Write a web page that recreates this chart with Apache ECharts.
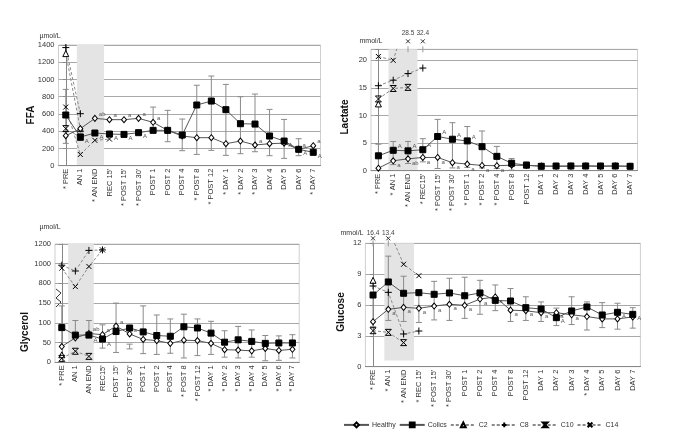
<!DOCTYPE html>
<html>
<head>
<meta charset="utf-8">
<script src="https://cdn.jsdelivr.net/npm/echarts@6/dist/echarts.min.js"></script>
<style>
html, body { margin: 0; padding: 0; background: #fff; }
#chart { width: 685px; height: 448px; }
</style>
</head>
<body>
<div id="chart"></div>
<script>
// ---- FFA (umol/L) ----
const ffaCategories = ["* PRE", "AN 1", "* AN END", "REC 15'", "* POST 15'", "* POST 30'", "POST 1", "POST 2", "POST 4", "* POST 8", "* POST 12", "* DAY 1", "* DAY 2", "* DAY 3", "DAY 4", "DAY 5", "DAY 6", "* DAY 7"]
const ffaHealthy = [348, 429, 549, 534, 534, 549, 503, 410, 344, 325, 325, 255, 286, 240, 255, 262, 190, 232]
const ffaColics = [588, 333, 379, 367, 363, 383, 410, 410, 356, 704, 750, 650, 487, 483, 344, 286, 190, 155]
const ffaUpper = [885, null, null, null, null, null, 680, 642, 541, 933, 1040, 943, 800, 831, 653, 537, 313, null]
const ffaLower = [259, null, null, null, null, null, null, 278, 174, 131, 178, 120, 139, 162, 116, 85, 116, null]
const ffaC2 = [1300, 430]
const ffaC8 = [1370, 603]
const ffaC10 = [430, 330]
const ffaC14 = [680, 130, 294, 309]
const ffaHealthyMarks = ['', '', 'ab', 'a', 'a', 'a', 'a', '', '', '', '', '', '', 'a', '', '', 'a', 'a']
const ffaColicsMarks = ['', 'A', 'A', 'A', 'A', 'A', '', '', '', '', '', '', '', '', '', 'A', 'A', 'A']

// ---- Lactate (mmol/L) ----
const lacCategories = ["* PRE", "* AN 1", "* AN END", "* REC15'", "* POST 15'", "* POST 30'", "* POST 1", "* POST 2", "* POST 4", "POST 8", "POST 12", "DAY 1", "DAY 2", "DAY 3", "DAY 4", "DAY 5", "DAY 6", "DAY 7"]
const lacHealthy = [0.45, 1.8, 2.15, 2.4, 2.4, 1.45, 1.2, 0.95, 0.9, 1.0, 0.95, 0.85, 0.8, 0.8, 0.85, 0.8, 0.85, 0.8]
const lacColics = [2.7, 3.7, 3.6, 3.8, 6.2, 5.7, 5.4, 4.35, 2.6, 1.35, 1.0, 0.8, 0.85, 0.85, 0.85, 0.85, 0.85, 0.8]
const lacUpper = [4.8, 5.3, 5.3, 5.8, 9.3, 8.7, 8.0, 7.2, 4.4, 2.2, 1.6, 1.3, 1.3, 1.35, 1.3, 1.3, 1.3, 1.25]
const lacLower = [null, 1.1, 1.3, 1.6, 0.4, 0.5, 0.6, 0.5, 0.4, 0.1, null, null, null, null, null, null, null, null]
const lacC2 = [12.1]
const lacC8 = [15.4, 16.4, 17.6, 18.6]
const lacC10 = [13.0, 14.9, 15.1]
const lacC14 = [20.7, 20.0, 28.5, 32.4]
const lacHealthyMarks = ['', 'a', 'ab', 'a', 'a', 'a', 'a', 'a', 'a', '', '', '', '', '', '', '', '', '']
const lacColicsMarks = ['', 'A', 'A', 'A', 'A', 'A', 'A', '', '', '', '', '', '', '', '', '', '', '']

// ---- Glycerol (umol/L), broken axis ----
const glyCategories = ["* PRE", "AN 1", "AN END", "REC15'", "POST 15'", "POST 30'", "POST 1", "POST 2", "POST 4", "* POST 8", "* POST 12", "* DAY 1", "* DAY 2", "* DAY 3", "* DAY 4", "DAY 5", "* DAY 6", "* DAY 7"]
const glyTicks = [0, 50, 100, 150, 800, 1000, 1200]
const glyHealthy = [40, 62, 73, 70, 92, 72, 58, 55, 48, 56, 55, 48, 32, 31, 29, 35, 30, 33]
const glyColics = [88, 69, 69, 59, 78, 87, 77, 68, 66, 90, 87, 74, 51, 57, 53, 48, 49, 49]
const glyUpper = [143, 106, 106, 95, 150, 184, 143, 120, 110, 122, 110, 104, 80, 91, 82, 68, 67, 70]
const glyLower = [null, null, null, 36, 25, 34, 22, 20, 23, 11, 17, 20, 13, 11, 13, 4, 5, 11]
const glyC2 = [19]
const glyC8 = [985, 926, 1135, 1140]
const glyC10 = [10, 28, 15]
const glyC14 = [955, 768, 972, 1140]
const glyHealthyMarks = ['', '', 'ab', 'a', 'a', 'a', '', '', '', '', '', '', '', '', '', '', '', '']
const glyColicsMarks = ['', '', 'A', 'A', '', '', '', '', '', '', '', '', '', '', '', '', '', '']

// ---- Glucose (mmol/L) ----
const glcCategories = ["* PRE", "* AN 1", "* AN END", "* REC 15'", "* POST 15'", "* POST 30'", "POST 1", "POST 2", "POST 4", "POST 8", "POST 12", "DAY 1", "DAY 2", "DAY 3", "* DAY 4", "DAY 5", "DAY 6", "DAY 7"]
const glcHealthy = [4.38, 5.58, 5.77, 5.68, 5.9, 6.07, 5.97, 6.58, 6.78, 5.5, 5.44, 5.25, 5.25, 5.05, 4.88, 4.65, 4.65, 4.84]
const glcColics = [6.97, 8.24, 7.14, 7.2, 7.04, 7.17, 6.9, 7.17, 6.45, 6.39, 5.74, 5.61, 4.77, 5.42, 5.81, 5.03, 5.29, 5.09]
const glcUpper = [null, 10.75, 8.8, null, 8.3, 8.6, 8.7, 8.4, 7.95, 7.6, 6.8, 6.3, 5.7, 6.8, 6.3, 6.23, 6.17, 5.74]
const glcLower = [3.9, 4.5, 4.4, 4.3, 4.55, 4.5, 4.7, 5.1, 5.45, 4.4, 4.5, 4.4, 4.0, 4.1, 3.57, 3.8, 3.65, 3.75]
const glcC2 = [8.4]
const glcC8 = [7.85, 7.23, 3.18, 3.47]
const glcC10 = [3.5, 3.34, 2.34]
const glcC14 = [16.4, 13.4, 9.96, 8.85]
const glcHealthyMarks = ['', 'a', 'a', 'a', 'a', 'a', 'a', 'a', 'a', 'a', 'a', 'a', 'a', 'a', '', '', '', '']
const glcColicsMarks = ['', '', '', '', '', '', '', '', '', '', '', '', 'A', '', '', '', 'A', 'A']

const legendNames = ['Healthy', 'Colics', 'C2', 'C8', 'C10', 'C14']

const FONT = 'Liberation Sans, Arial, sans-serif'

// marker styles
const styles = {
  Healthy: { symbol: 'diamond', size: [5, 6], fill: '#fff', dash: false, z: 5 },
  Colics: { symbol: 'rect', size: 6, fill: '#000', dash: false, z: 6 },
  C2: { symbol: 'triangle', size: 6, fill: '#fff', dash: true, z: 4 },
  C8: { symbol: 'path://M5,0V10M0,5H10', size: 7, fill: 'none', dash: true, z: 4 },
  C10: { symbol: 'path://M0,0H10L0,10H10Z', size: 6, fill: 'none', dash: true, z: 4 },
  C14: { symbol: 'path://M0,0L10,10M10,0L0,10', size: 5, fill: 'none', dash: true, z: 4 }
}

// glycerol broken axis: 0-150 lower part, 800-1200 upper part
function glyT(v) {
  if (v == null) return null
  return v <= 150 ? v / 50 : 4 + (v - 800) / 200
}
const ident = v => v
const plain = v => String(v)

const panels = [
  {
    cats: ffaCategories, h: ffaHealthy, c: ffaColics, up: ffaUpper, lo: ffaLower,
    c2: ffaC2, c8: ffaC8, c10: ffaC10, c14: ffaC14, hm: ffaHealthyMarks, cm: ffaColicsMarks,
    grid: { left: 58.5, top: 45, width: 262, height: 120.7 },
    y: { min: 0, max: 1400, interval: 200, fmt: plain }, t: ident,
    shade: [0.76, 2.63, 0], hmOff: [0, -4], cmOff: [0, 4]
  },
  {
    cats: lacCategories, h: lacHealthy, c: lacColics, up: lacUpper, lo: lacLower,
    c2: lacC2, c8: lacC8, c10: lacC10, c14: lacC14, hm: lacHealthyMarks, cm: lacColicsMarks,
    grid: { left: 371, top: 49.3, width: 266.5, height: 121.4 },
    y: { min: 0, max: 22, interval: 5, fmt: v => (v % 5 === 0 ? String(v) : '') }, t: ident,
    shade: [0.68, 2.64, 0], hmOff: [0, 5], cmOff: [0, -4], off: { mark: 8, text: 16 }
  },
  {
    cats: glyCategories, h: glyHealthy, c: glyColics, up: glyUpper, lo: glyLower,
    c2: glyC2, c8: glyC8, c10: glyC10, c14: glyC14, hm: glyHealthyMarks, cm: glyColicsMarks,
    grid: { left: 55, top: 244, width: 244.2, height: 118.3 },
    y: { min: 0, max: 6, interval: 1, fmt: v => String(glyTicks[v]) }, t: glyT,
    shade: [0.47, 2.36, 0], hmOff: [0, -4], cmOff: [0, 5]
  },
  {
    cats: glcCategories, h: glcHealthy, c: glcColics, up: glcUpper, lo: glcLower,
    c2: glcC2, c8: glcC8, c10: glcC10, c14: glcC14, hm: glcHealthyMarks, cm: glcColicsMarks,
    grid: { left: 365.4, top: 243.3, width: 275, height: 123.4 },
    y: { min: 0, max: 12, interval: 3, fmt: plain }, t: ident,
    shade: [0.74, 2.68, 0.6], hmOff: [0, 4], cmOff: [0, 4], off: { mark: 5, text: 10 }
  }
]

function renderShade(params, api) {
  const a = api.coord([api.value(0), api.value(3)])
  const b = api.coord([api.value(1), api.value(2)])
  return {
    type: 'rect',
    shape: { x: a[0], y: a[1], width: b[0] - a[0], height: b[1] - a[1] },
    style: { fill: '#e4e4e4' }
  }
}

function renderErr(params, api) {
  const i = api.value(0)
  const top = api.coord([i, api.value(1)])
  const bot = api.coord([i, api.value(2)])
  const st = { stroke: '#8a8a8a', lineWidth: 1 }
  const kids = [{ type: 'line', shape: { x1: top[0], y1: top[1], x2: bot[0], y2: bot[1] }, style: st }]
  if (api.value(3)) kids.push({ type: 'line', shape: { x1: top[0] - 3, y1: top[1], x2: top[0] + 3, y2: top[1] }, style: st })
  if (api.value(4)) kids.push({ type: 'line', shape: { x1: bot[0] - 3, y1: bot[1], x2: bot[0] + 3, y2: bot[1] }, style: st })
  return { type: 'group', children: kids }
}

// off-scale C14 values: marker and value above the plot
function makeOffRender(off) {
  return function (params, api) {
    const x = api.coord([api.value(0), 0])[0]
    const y0 = params.coordSys.y
    const my = y0 - off.mark
    const st = { stroke: '#333', lineWidth: 1 }
    return {
      type: 'group',
      children: [
        { type: 'line', shape: { x1: x - 2, y1: my - 2, x2: x + 2, y2: my + 2 }, style: st },
        { type: 'line', shape: { x1: x + 2, y1: my - 2, x2: x - 2, y2: my + 2 }, style: st },
        { type: 'line', shape: { x1: x, y1: y0 - 3, x2: x, y2: y0 + 3 }, style: { stroke: '#999', lineWidth: 1 } },
        {
          type: 'text', x: x, y: y0 - off.text,
          style: { text: String(api.value(1)), font: '6.5px ' + FONT, fill: '#444', textAlign: 'center', textVerticalAlign: 'middle' }
        }
      ]
    }
  }
}

function lineSeries(name, data, gi, marks, off) {
  const s = styles[name]
  const ser = {
    type: 'line', name: name, data: data,
    xAxisIndex: gi, yAxisIndex: gi,
    symbol: s.symbol, symbolSize: s.size, showAllSymbol: true,
    lineStyle: { color: s.dash ? '#8a8a8a' : '#555', width: 1, type: s.dash ? [3, 2] : 'solid' },
    itemStyle: { color: s.fill, borderColor: '#000', borderWidth: 1 },
    clip: true, z: s.z, animation: false,
    emphasis: { disabled: true }
  }
  if (marks) {
    ser.label = {
      show: true, position: 'right', distance: 1, offset: off,
      formatter: p => marks[p.dataIndex], fontSize: 6, color: '#555'
    }
  }
  return ser
}

const grids = [], xAxes = [], yAxes = [], series = []

panels.forEach((p, gi) => {
  grids.push(Object.assign({ show: true, borderColor: '#cfcfcf', borderWidth: 1 }, p.grid))
  xAxes.push({
    gridIndex: gi, type: 'category', data: p.cats,
    axisLine: { lineStyle: { color: '#888' } },
    axisTick: { length: 3, lineStyle: { color: '#888' } },
    axisLabel: { rotate: 90, fontSize: 7.5, color: '#333', margin: 3, interval: 0 }
  })
  yAxes.push({
    gridIndex: gi, type: 'value', min: p.y.min, max: p.y.max, interval: p.y.interval,
    axisLine: { show: true, lineStyle: { color: '#888' } },
    axisTick: { show: true, length: 3, lineStyle: { color: '#888' } },
    axisLabel: { fontSize: 7.5, color: '#333', margin: 4, formatter: p.y.fmt, showMinLabel: true, showMaxLabel: true },
    splitLine: { lineStyle: { color: '#a8a8a8', width: 1 } }
  })
})
// hidden value axes for the shaded anaesthesia period
panels.forEach((p, gi) => {
  xAxes.push({ gridIndex: gi, type: 'value', min: -0.5, max: 17.5, show: false })
})

panels.forEach((p, gi) => {
  const t = p.t
  series.push({
    type: 'custom', name: 'shade' + gi, xAxisIndex: 4 + gi, yAxisIndex: gi,
    data: [[p.shade[0], p.shade[1], t(p.shade[2]), p.y.max]],
    encode: { x: [0, 1], y: [2, 3] },
    renderItem: renderShade, silent: true, z: 0, animation: false
  })
  const err = []
  p.h.forEach((hv, i) => {
    if (p.up[i] == null && p.lo[i] == null) return
    const hi = p.up[i] != null ? p.up[i] : Math.max(hv, p.c[i])
    const lo = p.lo[i] != null ? p.lo[i] : Math.min(hv, p.c[i])
    err.push([i, t(hi), t(lo), p.up[i] != null ? 1 : 0, p.lo[i] != null ? 1 : 0])
  })
  series.push({
    type: 'custom', name: 'err' + gi, xAxisIndex: gi, yAxisIndex: gi,
    data: err, encode: { x: 0, y: [1, 2] },
    renderItem: renderErr, silent: true, z: 1, animation: false
  })
  series.push(lineSeries('Healthy', p.h.map(t), gi, p.hm, p.hmOff))
  series.push(lineSeries('Colics', p.c.map(t), gi, p.cm, p.cmOff))
  series.push(lineSeries('C2', p.c2.map(t), gi))
  series.push(lineSeries('C8', p.c8.map(t), gi))
  series.push(lineSeries('C10', p.c10.map(t), gi))
  series.push(lineSeries('C14', p.c14.map(t), gi))
  if (p.off) {
    const offData = []
    p.c14.forEach((v, i) => { if (v > p.y.max) offData.push([i, v]) })
    series.push({
      type: 'custom', name: 'off' + gi, xAxisIndex: gi, yAxisIndex: gi,
      data: offData, encode: { x: 0, y: 1 },
      renderItem: makeOffRender(p.off), clip: false, silent: true, z: 7, animation: false
    })
  }
})

function vText(text, x, y) {
  return {
    type: 'text', x: x, y: y, rotation: Math.PI / 2,
    style: { text: text, font: 'bold 10px ' + FONT, fill: '#111', textAlign: 'center', textVerticalAlign: 'middle' }
  }
}
function unitText(text, x, y) {
  return {
    type: 'text', x: x, y: y,
    style: { text: text, font: '7px ' + FONT, fill: '#333', textAlign: 'center', textVerticalAlign: 'middle' }
  }
}

const option = {
  animation: false,
  textStyle: { fontFamily: FONT },
  grid: grids,
  xAxis: xAxes,
  yAxis: yAxes,
  legend: {
    data: legendNames, left: 338, top: 415,
    itemWidth: 25, itemHeight: 6, itemGap: 3,
    textStyle: { fontSize: 7, color: '#333', padding: [0, 0, 0, -2] },
    selectedMode: false
  },
  graphic: [
    vText('FFA', 31, 115),
    vText('Lactate', 345.5, 117),
    vText('Glycerol', 25, 332),
    vText('Glucose', 341, 312),
    unitText('\u00b5mol/L', 50, 36),
    unitText('\u00b5mol/L', 50, 227),
    unitText('mmol/L', 371, 41),
    unitText('mmol/L', 352, 233),
    {
      type: 'polyline',
      shape: { points: [[56, 307], [61, 302], [56, 298], [61, 293], [56, 289]] },
      style: { stroke: '#333', lineWidth: 1, fill: 'none' }
    }
  ],
  series: series
}

const chart = echarts.init(document.getElementById('chart'))
chart.setOption(option)
</script>
</body>
</html>
